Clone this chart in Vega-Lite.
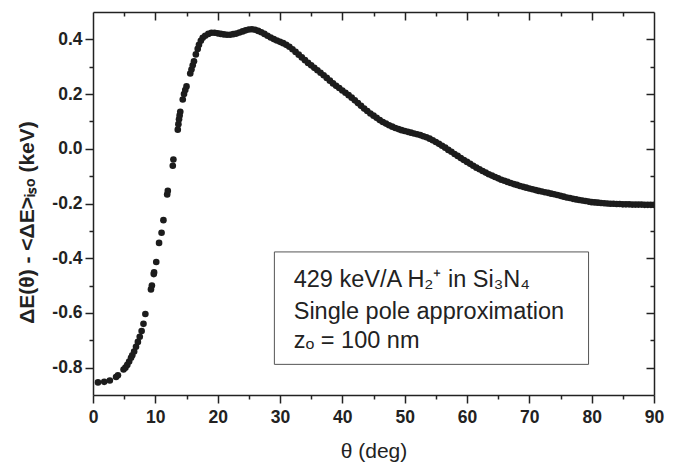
{
  "$schema": "https://vega.github.io/schema/vega-lite/v6.json",
  "width": 561,
  "height": 383,
  "autosize": {"type": "none"},
  "padding": {"left": 93, "top": 12, "right": 31, "bottom": 69},
  "background": "white",
  "config": {"view": {"stroke": null}, "font": "Liberation Sans", "axis": {"grid": false}},
  "datasets": {
    "curve": [
      {"t":0.8,"v":-0.854},{"t":1.8,"v":-0.852},{"t":2.7,"v":-0.847},{"t":3.7,"v":-0.834},{"t":4.0,"v":-0.828},
      {"t":4.9,"v":-0.807},{"t":5.2,"v":-0.800},{"t":5.5,"v":-0.790},{"t":5.8,"v":-0.778},{"t":6.1,"v":-0.764},
      {"t":6.3,"v":-0.755},{"t":6.6,"v":-0.741},{"t":6.9,"v":-0.724},{"t":7.2,"v":-0.706},{"t":7.5,"v":-0.687},
      {"t":7.8,"v":-0.666},{"t":8.1,"v":-0.640},{"t":8.4,"v":-0.604},{"t":9.3,"v":-0.514},{"t":9.45,"v":-0.500},
      {"t":9.75,"v":-0.458},{"t":9.8,"v":-0.452},{"t":10.15,"v":-0.414},{"t":10.6,"v":-0.344},{"t":11.0,"v":-0.307},
      {"t":11.3,"v":-0.261},{"t":11.9,"v":-0.167},{"t":12.0,"v":-0.154},{"t":12.8,"v":-0.062},{"t":12.9,"v":-0.039},
      {"t":13.6,"v":0.070},{"t":13.7,"v":0.090},{"t":13.8,"v":0.108},{"t":13.9,"v":0.122},{"t":14.0,"v":0.135},
      {"t":14.4,"v":0.180},{"t":14.6,"v":0.200},{"t":14.8,"v":0.215},{"t":15.0,"v":0.228},{"t":15.6,"v":0.275},
      {"t":15.8,"v":0.290},{"t":16.0,"v":0.305},{"t":16.2,"v":0.320},{"t":16.5,"v":0.345},{"t":16.8,"v":0.365},
      {"t":17.0,"v":0.380},{"t":17.3,"v":0.395},{"t":17.6,"v":0.406},
      {"t":18.0,"v":0.413},{"t":18.5,"v":0.420},{"t":19.0,"v":0.424},{"t":19.5,"v":0.424},{"t":20.0,"v":0.422},
      {"t":20.5,"v":0.420},{"t":21.0,"v":0.418},{"t":21.5,"v":0.417},{"t":22.0,"v":0.417},{"t":22.5,"v":0.419},
      {"t":23.0,"v":0.421},{"t":23.5,"v":0.425},{"t":24.0,"v":0.429},{"t":24.5,"v":0.433},{"t":25.0,"v":0.436},
      {"t":25.5,"v":0.437},{"t":26.0,"v":0.435},{"t":26.5,"v":0.431},{"t":27.0,"v":0.426},{"t":27.5,"v":0.420},
      {"t":28.0,"v":0.413},{"t":28.5,"v":0.407},{"t":29.0,"v":0.401},{"t":29.5,"v":0.396},{"t":30.0,"v":0.391},
      {"t":30.5,"v":0.386},{"t":31.0,"v":0.380},{"t":31.5,"v":0.373},{"t":32.0,"v":0.364},{"t":32.5,"v":0.354},
      {"t":33.0,"v":0.344},{"t":33.5,"v":0.334},{"t":34.0,"v":0.324},{"t":34.5,"v":0.314},{"t":35.0,"v":0.305},
      {"t":35.5,"v":0.296},{"t":36.0,"v":0.287},{"t":36.5,"v":0.278},{"t":37.0,"v":0.269},{"t":37.5,"v":0.259},
      {"t":38.0,"v":0.249},{"t":38.5,"v":0.239},{"t":39.0,"v":0.230},{"t":39.5,"v":0.222},{"t":40.0,"v":0.213},
      {"t":40.5,"v":0.205},{"t":41.0,"v":0.196},{"t":41.5,"v":0.187},{"t":42.0,"v":0.177},{"t":42.5,"v":0.167},
      {"t":43.0,"v":0.157},{"t":43.5,"v":0.147},{"t":44.0,"v":0.138},{"t":44.5,"v":0.129},{"t":45.0,"v":0.121},
      {"t":45.5,"v":0.113},{"t":46.0,"v":0.105},{"t":46.5,"v":0.098},{"t":47.0,"v":0.092},{"t":47.5,"v":0.086},
      {"t":48.0,"v":0.081},{"t":48.5,"v":0.076},{"t":49.0,"v":0.072},{"t":49.5,"v":0.068},{"t":50.0,"v":0.065},
      {"t":50.5,"v":0.062},{"t":51.0,"v":0.059},{"t":51.5,"v":0.056},{"t":52.0,"v":0.053},{"t":52.5,"v":0.050},
      {"t":53.0,"v":0.046},{"t":53.5,"v":0.042},{"t":54.0,"v":0.037},{"t":54.5,"v":0.031},{"t":55.0,"v":0.025},
      {"t":55.5,"v":0.018},{"t":56.0,"v":0.011},{"t":56.5,"v":0.004},{"t":57.0,"v":-0.004},{"t":57.5,"v":-0.011},
      {"t":58.0,"v":-0.019},{"t":58.5,"v":-0.026},{"t":59.0,"v":-0.034},{"t":59.5,"v":-0.041},{"t":60.0,"v":-0.048},
      {"t":60.5,"v":-0.055},{"t":61.0,"v":-0.062},{"t":61.5,"v":-0.069},{"t":62.0,"v":-0.075},{"t":62.5,"v":-0.081},
      {"t":63.0,"v":-0.087},{"t":63.5,"v":-0.093},{"t":64.0,"v":-0.098},{"t":64.5,"v":-0.103},{"t":65.0,"v":-0.108},
      {"t":65.5,"v":-0.113},{"t":66.0,"v":-0.117},{"t":66.5,"v":-0.121},{"t":67.0,"v":-0.125},{"t":67.5,"v":-0.129},
      {"t":68.0,"v":-0.132},{"t":68.5,"v":-0.136},{"t":69.0,"v":-0.139},{"t":69.5,"v":-0.142},{"t":70.0,"v":-0.145},
      {"t":70.5,"v":-0.148},{"t":71.0,"v":-0.151},{"t":71.5,"v":-0.154},{"t":72.0,"v":-0.156},{"t":72.5,"v":-0.159},
      {"t":73.0,"v":-0.161},{"t":73.5,"v":-0.164},{"t":74.0,"v":-0.166},{"t":74.5,"v":-0.169},{"t":75.0,"v":-0.172},
      {"t":75.5,"v":-0.175},{"t":76.0,"v":-0.178},{"t":76.5,"v":-0.180},{"t":77.0,"v":-0.183},{"t":77.5,"v":-0.185},
      {"t":78.0,"v":-0.187},{"t":78.5,"v":-0.189},{"t":79.0,"v":-0.191},{"t":79.5,"v":-0.193},{"t":80.0,"v":-0.195},
      {"t":80.5,"v":-0.196},{"t":81.0,"v":-0.197},{"t":81.5,"v":-0.198},{"t":82.0,"v":-0.199},{"t":82.5,"v":-0.200},
      {"t":83.0,"v":-0.201},{"t":83.5,"v":-0.201},{"t":84.0,"v":-0.202},{"t":84.5,"v":-0.202},{"t":85.0,"v":-0.203},
      {"t":85.5,"v":-0.203},{"t":86.0,"v":-0.203},{"t":86.5,"v":-0.204},{"t":87.0,"v":-0.204},{"t":87.5,"v":-0.204},
      {"t":88.0,"v":-0.204},{"t":88.5,"v":-0.205},{"t":89.0,"v":-0.205},{"t":89.5,"v":-0.205},{"t":90.0,"v":-0.205}
    ],
    "box": [{"x1": 29.1, "x2": 79.5, "y1": -0.377, "y2": -0.788}],
    "notes": [
      {"x": 32.2, "y": -0.505, "text": "429 keV/A H₂⁺ in Si₃N₄"},
      {"x": 32.2, "y": -0.623, "text": "Single pole approximation"},
      {"x": 32.2, "y": -0.728, "text": "zₒ = 100 nm"}
    ]
  },
  "resolve": {"axis": {"x": "independent", "y": "independent"}},
  "layer": [
    {
      "data": {"name": "box"},
      "mark": {"type": "rect", "fill": "white", "stroke": "#555555", "strokeWidth": 1},
      "encoding": {
        "x": {"field": "x1", "type": "quantitative",
          "scale": {"domain": [0, 90], "nice": false, "zero": false},
          "axis": {"orient": "top", "values": [5,10,15,20,25,30,35,40,45,50,55,60,65,70,75,80,85],
            "labels": false, "title": null, "grid": false, "domainColor": "#222222", "domainWidth": 1.5,
            "tickColor": "#222222", "tickWidth": 1.5,
            "tickSize": {"condition": {"test": "datum.value % 10 === 0", "value": -8}, "value": -4}}},
        "x2": {"field": "x2"},
        "y": {"field": "y1", "type": "quantitative",
          "scale": {"domain": [-0.9, 0.5], "nice": false, "zero": false},
          "axis": {"orient": "right", "values": [-0.8,-0.7,-0.6,-0.5,-0.4,-0.3,-0.2,-0.1,0,0.1,0.2,0.3,0.4],
            "labels": false, "title": null, "grid": false, "domainColor": "#222222", "domainWidth": 1.5,
            "tickColor": "#222222", "tickWidth": 1.5,
            "tickSize": {"condition": {"test": "abs(round(datum.value*10)) % 2 === 0", "value": -8}, "value": -4}}},
        "y2": {"field": "y2"}
      }
    },
    {
      "data": {"name": "notes"},
      "mark": {"type": "text", "align": "left", "baseline": "alphabetic", "font": "Liberation Sans", "fontSize": 23.5, "color": "#222222"},
      "encoding": {
        "x": {"field": "x", "type": "quantitative", "scale": {"domain": [0, 90], "nice": false, "zero": false}, "axis": null},
        "y": {"field": "y", "type": "quantitative", "scale": {"domain": [-0.9, 0.5], "nice": false, "zero": false}, "axis": null},
        "text": {"field": "text"}
      }
    },
    {
      "data": {"name": "curve"},
      "mark": {"type": "point", "filled": true, "size": 44, "opacity": 1, "color": "#1c1c1c", "clip": true},
      "encoding": {
        "x": {"field": "t", "type": "quantitative",
          "scale": {"domain": [0, 90], "nice": false, "zero": false},
          "axis": {"orient": "bottom", "values": [0,5,10,15,20,25,30,35,40,45,50,55,60,65,70,75,80,85,90],
            "grid": false,
            "labelExpr": "datum.value % 10 === 0 ? datum.label : ''",
            "labelFont": "Liberation Sans", "labelFontWeight": "bold", "labelFontSize": 17.5, "labelColor": "#222222",
            "labelPadding": 5, "labelFlush": false, "labelOverlap": false,
            "domainColor": "#222222", "domainWidth": 1.5, "tickColor": "#222222", "tickWidth": 1.5,
            "tickSize": {"condition": {"test": "datum.value % 10 === 0", "value": 8}, "value": 4},
            "title": "θ (deg)", "titleFont": "Liberation Sans", "titleFontWeight": "normal", "titleFontSize": 21,
            "titleColor": "#222222", "titlePadding": 15}},
        "y": {"field": "v", "type": "quantitative",
          "scale": {"domain": [-0.9, 0.5], "nice": false, "zero": false},
          "axis": {"orient": "left", "values": [-0.8,-0.7,-0.6,-0.5,-0.4,-0.3,-0.2,-0.1,0,0.1,0.2,0.3,0.4],
            "grid": false,
            "labelExpr": "abs(round(datum.value*10)) % 2 === 0 ? ((datum.value < -0.001 ? '-' : '') + format(abs(datum.value), '.1f')) : ''",
            "labelFont": "Liberation Sans", "labelFontWeight": "bold", "labelFontSize": 17.5, "labelColor": "#222222",
            "labelPadding": 3, "labelOverlap": false,
            "domainColor": "#222222", "domainWidth": 1.5, "tickColor": "#222222", "tickWidth": 1.5,
            "tickSize": {"condition": {"test": "abs(round(datum.value*10)) % 2 === 0", "value": 8}, "value": 4},
            "title": "ΔE(θ) - <ΔE>ᵢₛₒ (keV)", "titleFont": "Liberation Sans", "titleFontWeight": "bold", "titleFontSize": 21,
            "titleColor": "#222222", "titlePadding": 14, "titleY": 210}}
      }
    }
  ]
}
